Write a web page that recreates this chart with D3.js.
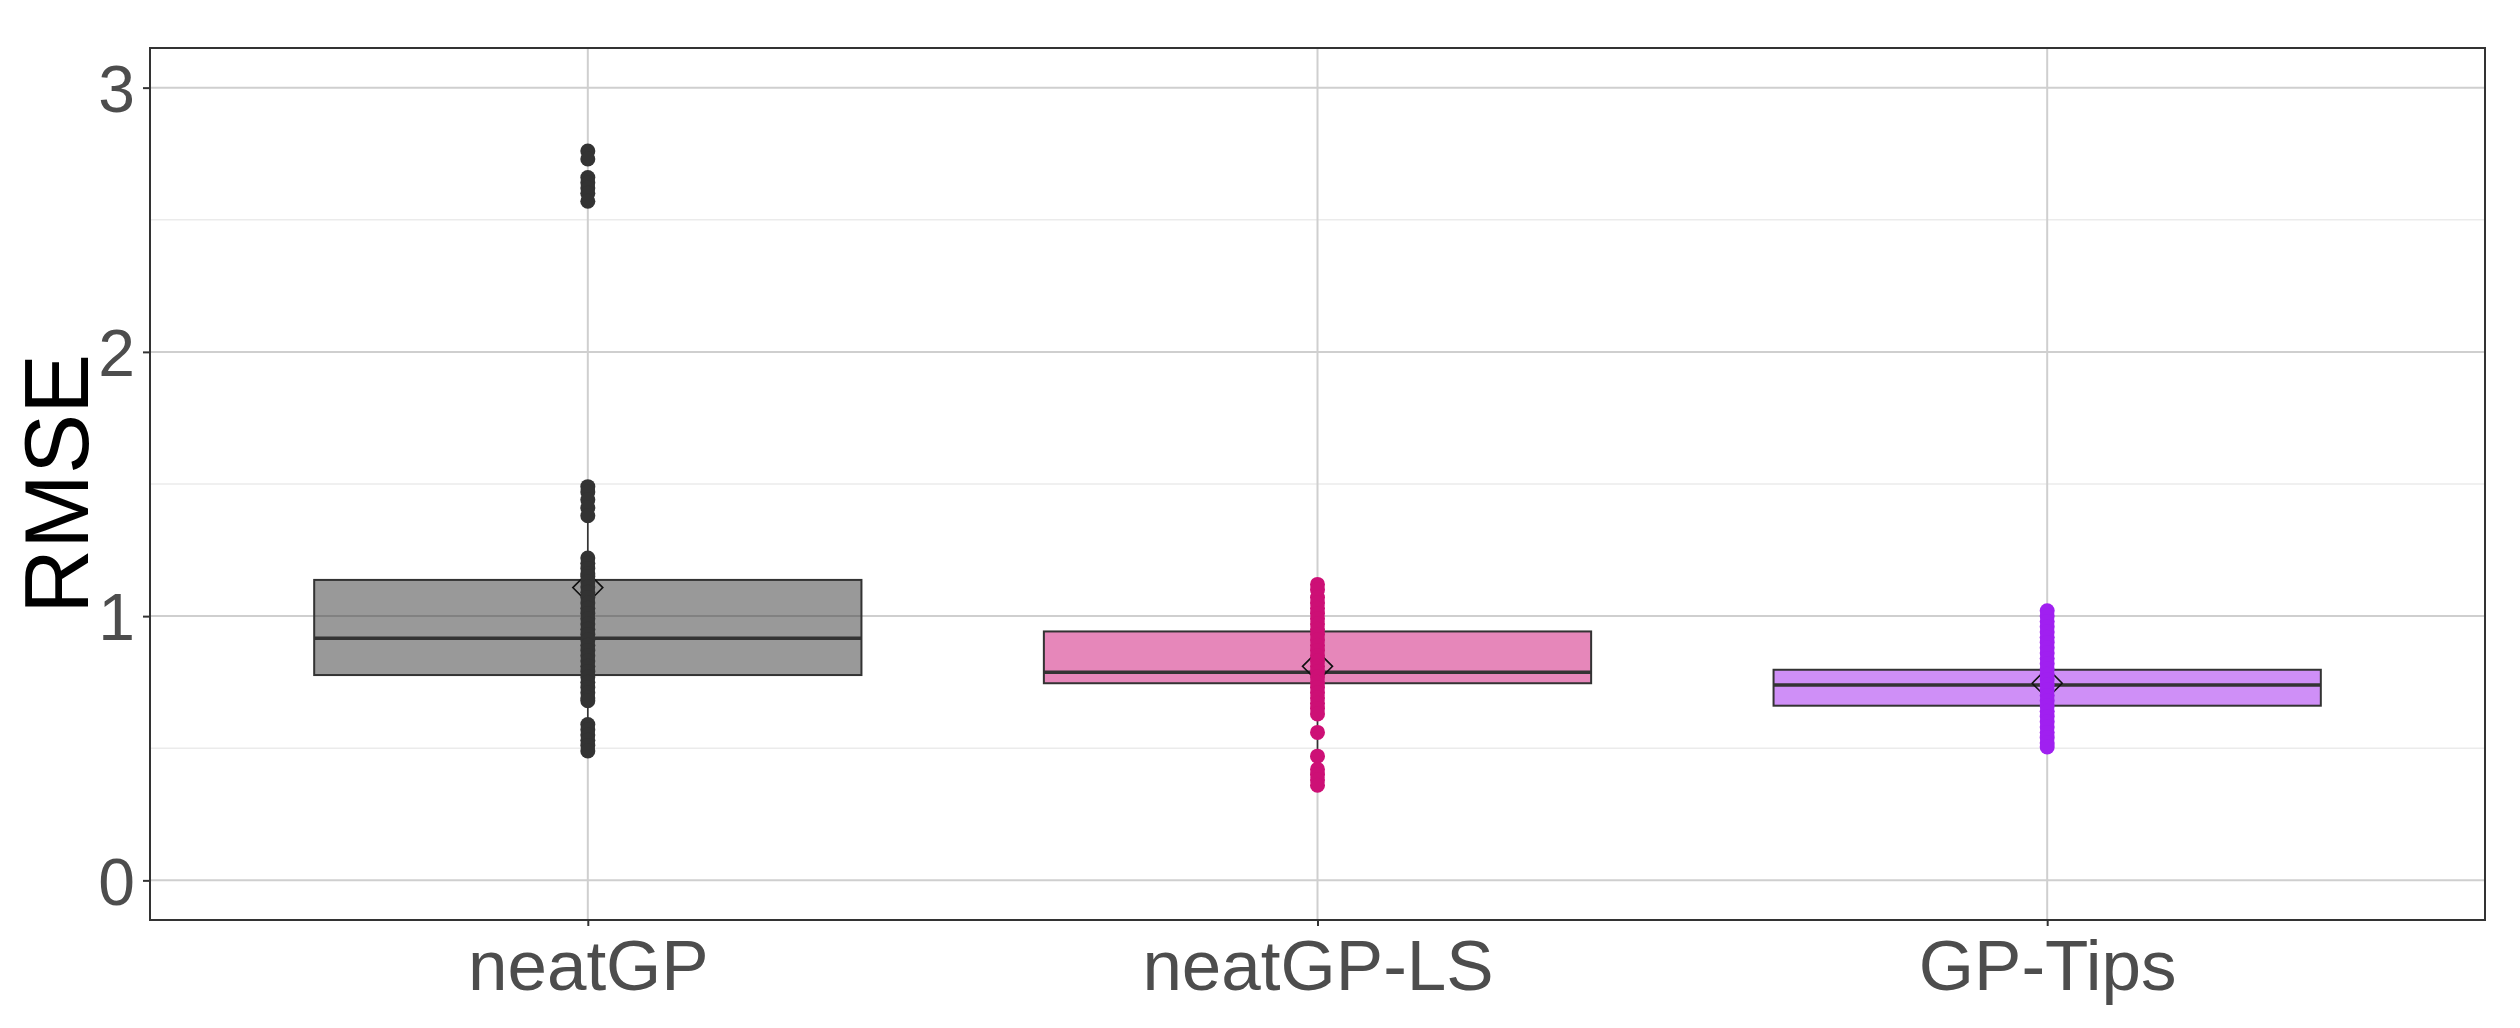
<!DOCTYPE html>
<html><head><meta charset="utf-8">
<script src="https://cdn.jsdelivr.net/npm/d3@7"></script>
<style>html,body{margin:0;padding:0;background:#fff;}svg{display:block;font-family:"Liberation Sans",Arial,sans-serif;}</style>
</head><body>
<svg id="chart" width="2520" height="1028"></svg>
<script>
// ---- data ----
const categories = ["neatGP", "neatGP-LS", "GP-Tips"];
const pointColors = ["#333333", "#CD1076", "#A020F0"];
const boxQ1 = [0.777, 0.746, 0.661];
const boxMedian = [0.916, 0.788, 0.739];
const boxQ3 = [1.137, 0.942, 0.797];
const means = [1.108, 0.810, 0.746];
const pointsNeatGP = [2.76, 2.73, 2.66, 2.64, 2.62, 2.60, 2.57, 1.49, 1.47, 1.44, 1.41, 1.38,
  1.22, 1.20, 1.18, 1.16, 1.15, 1.13, 1.11, 1.09, 1.07, 1.05, 1.03, 1.01, 0.99, 0.97, 0.95,
  0.93, 0.91, 0.89, 0.87, 0.85, 0.83, 0.81, 0.79, 0.77, 0.75, 0.73, 0.71, 0.69, 0.68,
  0.59, 0.57, 0.55, 0.53, 0.51, 0.49];
const pointsNeatGPLS = [1.12, 1.10, 1.07, 1.05, 1.03, 1.01, 0.99, 0.97, 0.95, 0.93, 0.91, 0.89,
  0.87, 0.85, 0.83, 0.81, 0.79, 0.77, 0.75, 0.73, 0.71, 0.69, 0.67, 0.65, 0.63,
  0.56, 0.47, 0.42, 0.40, 0.38, 0.36];
const pointsGPTips = [1.02, 1.00, 0.98, 0.96, 0.94, 0.92, 0.90, 0.88, 0.86, 0.84, 0.82, 0.80,
  0.78, 0.76, 0.74, 0.72, 0.70, 0.68, 0.66, 0.64, 0.62, 0.60, 0.58, 0.56, 0.54, 0.52, 0.505];
const yTicks = [0, 1, 2, 3];
const yMinorTicks = [0.5, 1.5, 2.5];
const yLabel = "RMSE";

const pointSets = [pointsNeatGP, pointsNeatGPLS, pointsGPTips];

// ---- layout ----
const panel = {left: 150, right: 2485, top: 48, bottom: 920};
const svg = d3.select("#chart");

const x = d3.scalePoint().domain(categories).range([panel.left, panel.right]).padding(0.6);
const y = d3.scaleLinear().domain([-0.15, 3.15]).range([panel.bottom, panel.top]);
const boxW = x.step() * 0.75;

// grid
const grid = svg.append("g");
grid.selectAll("line.minor").data(yMinorTicks).join("line")
  .attr("x1", panel.left).attr("x2", panel.right)
  .attr("y1", d => y(d)).attr("y2", d => y(d))
  .attr("stroke", "#EBEBEB").attr("stroke-width", 1.5);
grid.selectAll("line.major").data(yTicks).join("line")
  .attr("x1", panel.left).attr("x2", panel.right)
  .attr("y1", d => y(d)).attr("y2", d => y(d))
  .attr("stroke", "#CFCFCF").attr("stroke-width", 2);
grid.selectAll("line.vmajor").data(categories).join("line")
  .attr("x1", d => x(d)).attr("x2", d => x(d))
  .attr("y1", panel.top).attr("y2", panel.bottom)
  .attr("stroke", "#CFCFCF").attr("stroke-width", 2);

// boxes
const groups = categories.map((c, i) => {
  const iqr = boxQ3[i] - boxQ1[i];
  const pts = pointSets[i];
  const hiFence = boxQ3[i] + 1.5 * iqr, loFence = boxQ1[i] - 1.5 * iqr;
  const whiskHi = d3.max(pts.filter(v => v <= hiFence));
  const whiskLo = d3.min(pts.filter(v => v >= loFence));
  return {c, i, q1: boxQ1[i], med: boxMedian[i], q3: boxQ3[i], mean: means[i], whiskHi, whiskLo, pts, color: pointColors[i]};
});

const gBox = svg.append("g");
groups.forEach(g => {
  const cx = x(g.c);
  gBox.append("line").attr("x1", cx).attr("x2", cx).attr("y1", y(g.q3)).attr("y2", y(g.whiskHi))
    .attr("stroke", "#333333").attr("stroke-width", 1.6);
  gBox.append("line").attr("x1", cx).attr("x2", cx).attr("y1", y(g.q1)).attr("y2", y(g.whiskLo))
    .attr("stroke", "#333333").attr("stroke-width", 1.6);
  gBox.append("rect").attr("x", cx - boxW / 2).attr("width", boxW)
    .attr("y", y(g.q3)).attr("height", y(g.q1) - y(g.q3))
    .attr("fill", g.color).attr("fill-opacity", 0.5)
    .attr("stroke", "#333333").attr("stroke-width", 2);
  gBox.append("line").attr("x1", cx - boxW / 2).attr("x2", cx + boxW / 2)
    .attr("y1", y(g.med)).attr("y2", y(g.med))
    .attr("stroke", "#333333").attr("stroke-width", 3.5);
  // mean diamond
  const s = 15, my = y(g.mean);
  gBox.append("path")
    .attr("d", `M${cx - s},${my}L${cx},${my - s}L${cx + s},${my}L${cx},${my + s}Z`)
    .attr("fill", "none").attr("stroke", "#111111").attr("stroke-width", 1.6);
});

// points
const gPts = svg.append("g");
groups.forEach(g => {
  gPts.selectAll(null).data(g.pts).join("circle")
    .attr("cx", x(g.c)).attr("cy", d => y(d)).attr("r", 7.5)
    .attr("fill", g.color);
});

// panel border
svg.append("rect").attr("x", panel.left).attr("y", panel.top)
  .attr("width", panel.right - panel.left).attr("height", panel.bottom - panel.top)
  .attr("fill", "none").attr("stroke", "#333333").attr("stroke-width", 2);

// axes
const yAxis = d3.axisLeft(y).tickValues(yTicks).tickSize(7).tickPadding(8).tickFormat(d3.format("d"));
const gy = svg.append("g").attr("transform", `translate(${panel.left},0)`).call(yAxis);
gy.select(".domain").remove();
gy.selectAll(".tick line").attr("stroke", "#333333").attr("stroke-width", 2);
gy.selectAll(".tick text").attr("fill", "#4D4D4D").attr("font-size", 66)
  .attr("font-family", "Liberation Sans, Arial, sans-serif").attr("dy", "0.36em");

const xAxis = d3.axisBottom(x).tickSize(6).tickPadding(14);
const gx = svg.append("g").attr("transform", `translate(0,${panel.bottom})`).call(xAxis);
gx.select(".domain").remove();
gx.selectAll(".tick line").attr("stroke", "#333333").attr("stroke-width", 2);
gx.selectAll(".tick text").attr("fill", "#4D4D4D").attr("font-size", 71)
  .attr("font-family", "Liberation Sans, Arial, sans-serif").attr("dy", "0.71em");

// y label
svg.append("text")
  .attr("transform", `translate(88,${(panel.top + panel.bottom) / 2}) rotate(-90)`)
  .attr("text-anchor", "middle").attr("font-size", 90).attr("fill", "#000")
  .text(yLabel);
</script>
</body></html>
